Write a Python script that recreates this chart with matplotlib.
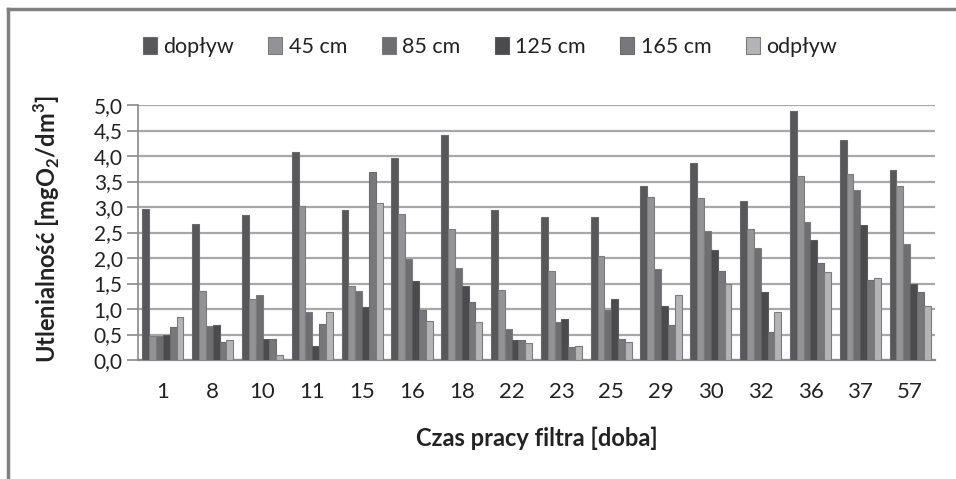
import matplotlib
matplotlib.use("Agg")
import matplotlib.pyplot as plt
from matplotlib.lines import Line2D
from matplotlib.patches import Patch
import numpy as np

categories = ["1", "8", "10", "11", "15", "16", "18", "22", "23", "25", "29", "30", "32", "36", "37", "57"]
series_names = ["dopływ", "45 cm", "85 cm", "125 cm", "165 cm", "odpływ"]
doplyw = [2.97, 2.66, 2.84, 4.07, 2.94, 3.96, 4.42, 2.94, 2.81, 2.81, 3.42, 3.86, 3.12, 4.89, 4.32, 3.73]
cm45   = [0.48, 1.36, 1.20, 3.01, 1.46, 2.86, 2.56, 1.38, 1.74, 2.03, 3.20, 3.17, 2.56, 3.60, 3.65, 3.42]
cm85   = [0.47, 0.67, 1.28, 0.95, 1.36, 1.99, 1.81, 0.61, 0.75, 0.99, 1.79, 2.53, 2.20, 2.71, 3.33, 2.27]
cm125  = [0.49, 0.69, 0.41, 0.28, 1.03, 1.54, 1.46, 0.39, 0.80, 1.20, 1.05, 2.15, 1.34, 2.36, 2.64, 1.50]
cm165  = [0.64, 0.36, 0.41, 0.71, 3.68, 0.99, 1.13, 0.39, 0.26, 0.41, 0.69, 1.74, 0.54, 1.90, 1.56, 1.33]
odplyw = [0.84, 0.39, 0.10, 0.94, 3.07, 0.77, 0.75, 0.33, 0.28, 0.36, 1.28, 1.49, 0.95, 1.72, 1.61, 1.05]
y_ticks = [0.0, 0.5, 1.0, 1.5, 2.0, 2.5, 3.0, 3.5, 4.0, 4.5, 5.0]

series = [doplyw, cm45, cm85, cm125, cm165, odplyw]
fills = ["#58585a", "#939395", "#6e6e70", "#4b4b4d", "#78787a", "#b4b4b6"]
edges = ["#6a6a6a", "#7c7c7c", "#7c7c7c", "#5c5c5c", "#6c6c6c", "#7c7c7c"]

FONT = ["Lato", "DejaVu Sans"]
plt.rcParams["font.family"] = FONT
plt.rcParams["mathtext.fontset"] = "custom"
plt.rcParams["mathtext.rm"] = "Lato"
plt.rcParams["mathtext.bf"] = "Lato:bold"

fig = plt.figure(figsize=(9.56, 4.79), dpi=100)
ax = fig.add_axes([138 / 956, 1 - 360 / 479, (935 - 138) / 956, (360 - 105) / 479])

n = len(categories)
x = np.arange(n)
bw = 0.1375
for i, (vals, fc, ec) in enumerate(zip(series, fills, edges)):
    ax.bar(x + (i - 2.5) * bw, vals, width=bw, color=fc, edgecolor=ec, linewidth=0.8,
           label=series_names[i], zorder=3)

ax.set_xlim(-0.5, n - 0.5)
ax.set_ylim(0, 5)
ax.set_yticks(y_ticks)
ax.set_yticklabels([f"{v:.1f}".replace(".", ",") for v in y_ticks])
ax.set_xticks(x)
ax.set_xticklabels(categories)
ax.yaxis.grid(True, color="#a8a8a8", linewidth=1.6, zorder=0)
ax.set_axisbelow(True)
for s in ["top", "right"]:
    ax.spines[s].set_visible(False)
ax.spines["left"].set_color("#8a8a8a")
ax.spines["bottom"].set_color("#8a8a8a")
ax.spines["left"].set_linewidth(1.2)
ax.spines["bottom"].set_linewidth(1.6)
ax.tick_params(axis="y", length=8, color="#8a8a8a", width=1.2, labelsize=15, pad=3, labelcolor="#222222")
ax.tick_params(axis="x", length=0, labelsize=16, pad=16, labelcolor="#222222")

fig.text(47 / 956, 1 - 229 / 479, r"Utlenialność [mgO$_\mathbf{2}$/dm$^\mathbf{3}$]", fontsize=17,
         fontweight="bold", color="#222222", rotation=90, ha="center", va="center")
fig.text(537 / 956, 1 - 438 / 479, "Czas pracy filtra [doba]", fontsize=17, fontweight="bold",
         color="#222222", ha="center", va="center")

handles = [Patch(facecolor=fc, edgecolor=ec, linewidth=0.8) for fc, ec in zip(fills, edges)]
fig.legend(handles, series_names, loc="center", bbox_to_anchor=(490 / 956, 1 - 47 / 479), ncol=6,
           frameon=False, fontsize=15.5, handlelength=0.65, handleheight=0.85, handletextpad=0.3,
           columnspacing=1.6, labelcolor="#222222")

fig.add_artist(Line2D([8 / 956, 1.0], [1 - 9 / 479, 1 - 9 / 479], transform=fig.transFigure,
                      color="#808080", linewidth=2.5))
fig.add_artist(Line2D([8 / 956, 8 / 956], [0, 1 - 9 / 479], transform=fig.transFigure,
                      color="#808080", linewidth=2.5))

fig.savefig("out.png", dpi=100)
